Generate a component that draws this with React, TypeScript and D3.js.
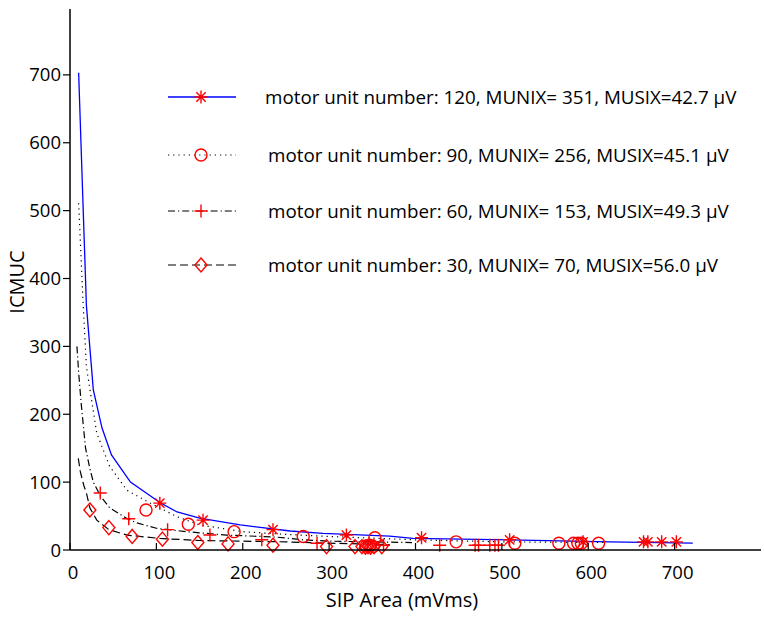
import React from 'react';
import * as d3 from 'd3';

const xTicks = [0, 100, 200, 300, 400, 500, 600, 700];
const yTicks = [0, 100, 200, 300, 400, 500, 600, 700];

// curves
const curve120X = [10, 19, 27, 37, 48, 70, 104, 124, 150, 197, 255, 293, 370, 397, 509, 625, 721];
const curve120Y = [703, 360, 236, 180, 140, 100, 70, 56, 47, 37, 28, 24.5, 20.5, 17, 15, 12, 10];
const curve90X = [10, 15, 19, 31, 46, 66, 93, 124, 150, 200, 250, 300, 400, 500, 621];
const curve90Y = [511, 368, 270, 172, 123, 88, 69, 49, 37, 27, 23, 20, 15, 12, 11];
const curve60X = [8, 10, 13, 18, 23, 27, 35, 46, 65, 77, 100, 135, 181, 239, 270, 300, 396];
const curve60Y = [300, 262, 215, 150, 120, 100, 80, 62, 47, 40, 32, 27, 22, 19, 15, 13, 11];
const curve30X = [9.6, 12, 16, 19, 23, 31, 45, 66, 104, 150, 200, 250, 300, 370];
const curve30Y = [135, 115, 95, 84, 62, 44, 30, 22, 17, 14, 13, 12, 10, 8];

// markers
const star120X = [104, 154, 235, 320, 407, 509, 594, 664, 669, 685, 702];
const star120Y = [69, 44, 30, 22, 18, 15, 12, 12, 12, 12, 12];
const circle90X = [88, 137, 190, 270, 343, 347, 351, 353, 447, 515, 566, 583, 588, 592, 612];
const circle90Y = [59, 38, 27, 20, 6, 7, 5, 18, 12, 10, 10, 10, 10, 10, 10];
const plus60X = [35, 68, 113, 162, 222, 286, 363, 428, 469, 473, 486, 492, 496];
const plus60Y = [84, 46, 30, 22, 15, 10, 7, 7, 7, 7, 7, 7, 7];
const diamond30X = [23, 45, 72, 107, 148, 183, 235, 297, 330, 338, 342, 345, 348, 352, 361];
const diamond30Y = [59, 33, 20, 16, 11, 9, 7, 5, 5, 5, 4, 5, 4, 5, 5];

const legendLabels = [
  'motor unit number: 120, MUNIX= 351, MUSIX=42.7 \u03BCV',
  'motor unit number: 90, MUNIX= 256, MUSIX=45.1 \u03BCV',
  'motor unit number: 60, MUNIX= 153, MUSIX=49.3 \u03BCV',
  'motor unit number: 30, MUNIX= 70, MUSIX=56.0 \u03BCV',
];

const RED = '#ff0000';
const FONT = '"Open Sans", Lato, sans-serif';

function starPath(r: number) {
  const a = r * 0.72;
  return `M${-r},0L${r},0M0,${-r}L0,${r}M${-a},${-a}L${a},${a}M${-a},${a}L${a},${-a}`;
}
function plusPath(r: number) {
  return `M${-r},0L${r},0M0,${-r}L0,${r}`;
}
function diamondPath(rx: number, ry: number) {
  return `M0,${-ry}L${rx},0L0,${ry}L${-rx},0Z`;
}

type Kind = 'star' | 'circle' | 'plus' | 'diamond';

function Marker({ kind, cx, cy }: { kind: Kind; cx: number; cy: number }) {
  const common = { fill: 'none', stroke: RED, strokeWidth: 1.4 };
  if (kind === 'circle') return <circle cx={cx} cy={cy} r={6} {...common} />;
  const d = kind === 'star' ? starPath(6.5) : kind === 'plus' ? plusPath(6.5) : diamondPath(6, 7);
  return <path transform={`translate(${cx},${cy})`} d={d} {...common} />;
}

export default function App() {
  const W = 764, H = 618;
  const x = d3.scaleLinear().domain([0, 800]).range([70, 761]);
  const y = d3.scaleLinear().domain([0, 800]).range([550, 7]);
  const line = d3.line<[number, number]>().x(d => x(d[0])).y(d => y(d[1]));
  const zip = (a: number[], b: number[]) => a.map((v, i) => [v, b[i]] as [number, number]);

  const series = [
    { cx: curve120X, cy: curve120Y, mx: star120X, my: star120Y, kind: 'star' as Kind, stroke: '#0000ff', dash: undefined as string | undefined, sw: 1.3 },
    { cx: curve90X, cy: curve90Y, mx: circle90X, my: circle90Y, kind: 'circle' as Kind, stroke: '#000', dash: '1.2,4', sw: 1.2 },
    { cx: curve60X, cy: curve60Y, mx: plus60X, my: plus60Y, kind: 'plus' as Kind, stroke: '#000', dash: '7,3,1.2,3', sw: 1.2 },
    { cx: curve30X, cy: curve30Y, mx: diamond30X, my: diamond30Y, kind: 'diamond' as Kind, stroke: '#000', dash: '8,4', sw: 1.2 },
  ];
  const legendY = [97, 155, 211, 265];

  return (
    <svg width={W} height={H} style={{ position: 'absolute', left: 0, top: 0, background: '#fff' }} fontFamily={FONT}>
      <rect x={0} y={0} width={W} height={H} fill="#fff" />
      {series.map((s, i) => (
        <path key={'c' + i} d={line(zip(s.cx, s.cy)) || ''} fill="none" stroke={s.stroke} strokeWidth={s.sw} strokeDasharray={s.dash} />
      ))}
      {series.map((s, i) => (
        <g key={'m' + i}>
          {s.mx.map((v, j) => <Marker key={j} kind={s.kind} cx={x(v)} cy={y(s.my[j])} />)}
        </g>
      ))}
      {/* axes */}
      <line x1={x(0)} x2={x(0)} y1={y(0)} y2={y(800) + 2} stroke="#000" strokeWidth={1.5} />
      <line x1={x(0)} x2={x(800)} y1={y(0)} y2={y(0)} stroke="#000" strokeWidth={1.5} />
      {xTicks.map(t => (
        <g key={'xt' + t}>
          <line x1={x(t)} x2={x(t)} y1={y(0)} y2={y(0) - 7} stroke="#000" strokeWidth={1.2} />
          <text x={x(t) + 3} y={579} textAnchor="middle" fontSize={18.5}>{t}</text>
        </g>
      ))}
      {yTicks.map(t => (
        <g key={'yt' + t}>
          <line x1={x(0)} x2={x(0) - 7} y1={y(t)} y2={y(t)} stroke="#000" strokeWidth={1.2} />
          <text x={61} y={y(t) + 6.5} textAnchor="end" fontSize={18.5}>{t}</text>
        </g>
      ))}
      <text x={402} y={607} textAnchor="middle" fontSize={20}>SIP Area (mVms)</text>
      <text transform={`translate(24,282) rotate(-90)`} textAnchor="middle" fontSize={20}>ICMUC</text>
      {/* legend */}
      {series.map((s, i) => (
        <g key={'l' + i}>
          <line x1={168} x2={236} y1={legendY[i]} y2={legendY[i]} stroke={s.stroke} strokeWidth={s.sw} strokeDasharray={s.dash} />
          <Marker kind={s.kind} cx={201} cy={legendY[i]} />
          <text x={i === 0 ? 265 : 268} y={legendY[i] + 6.5} fontSize={18.8}>{legendLabels[i]}</text>
        </g>
      ))}
    </svg>
  );
}
